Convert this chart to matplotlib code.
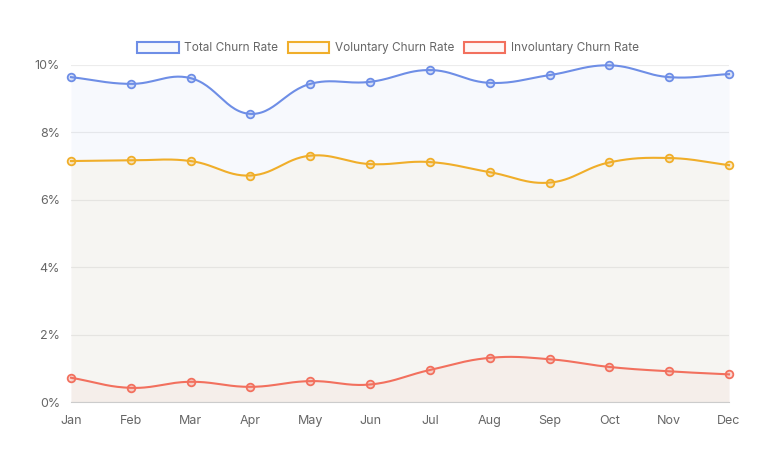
import numpy as np
import matplotlib
matplotlib.use("Agg")
import matplotlib.pyplot as plt
from matplotlib.patches import Patch
from matplotlib.ticker import FuncFormatter

plt.rcParams['font.family'] = ['Inter', 'DejaVu Sans']

months = ['Jan', 'Feb', 'Mar', 'Apr', 'May', 'Jun', 'Jul', 'Aug', 'Sep', 'Oct', 'Nov', 'Dec']
total_churn = [9.64, 9.44, 9.61, 8.55, 9.44, 9.50, 9.85, 9.47, 9.70, 9.99, 9.64, 9.73]
voluntary_churn = [7.15, 7.17, 7.15, 6.72, 7.31, 7.06, 7.12, 6.82, 6.51, 7.11, 7.24, 7.03]
involuntary_churn = [0.72, 0.42, 0.60, 0.45, 0.62, 0.52, 0.95, 1.31, 1.27, 1.04, 0.91, 0.82]

series_names = ['Total Churn Rate', 'Voluntary Churn Rate', 'Involuntary Churn Rate']
series_colors = ['#6e8ee6', '#f0ae2a', '#f2705e']


def spline(px, py, tension=0.4, steps=30):
    # chart.js style bezier through points (pixel coords)
    n = len(px)
    cps = []
    for i in range(n):
        p = (px[max(i - 1, 0)], py[max(i - 1, 0)])
        c = (px[i], py[i])
        nx = (px[min(i + 1, n - 1)], py[min(i + 1, n - 1)])
        d01 = np.hypot(c[0] - p[0], c[1] - p[1])
        d12 = np.hypot(nx[0] - c[0], nx[1] - c[1])
        s01 = d01 / (d01 + d12) if d01 + d12 else 0
        s12 = d12 / (d01 + d12) if d01 + d12 else 0
        fa, fb = tension * s01, tension * s12
        prev_cp = (c[0] - fa * (nx[0] - p[0]), c[1] - fa * (nx[1] - p[1]))
        next_cp = (c[0] + fb * (nx[0] - p[0]), c[1] + fb * (nx[1] - p[1]))
        cps.append((prev_cp, next_cp))
    xs, ys = [], []
    t = np.linspace(0, 1, steps)
    for i in range(n - 1):
        p0 = np.array([px[i], py[i]])
        p1 = np.array(cps[i][1])
        p2 = np.array(cps[i + 1][0])
        p3 = np.array([px[i + 1], py[i + 1]])
        pts = ((1 - t) ** 3)[:, None] * p0 + (3 * (1 - t) ** 2 * t)[:, None] * p1 \
            + (3 * (1 - t) * t ** 2)[:, None] * p2 + (t ** 3)[:, None] * p3
        xs.extend(pts[:, 0])
        ys.extend(pts[:, 1])
    return np.array(xs), np.array(ys)


fig = plt.figure(figsize=(7.76, 4.65), dpi=100)
ax = fig.add_axes([71 / 776, 1 - 402 / 465, 658 / 776, 337 / 465])
x = np.arange(len(months))
ax.set_xlim(0, len(months) - 1)
ax.set_ylim(0, 10)

for vals, color, name in zip([total_churn, voluntary_churn, involuntary_churn], series_colors, series_names):
    disp = ax.transData.transform(np.column_stack([x, vals]))
    sx, sy = spline(disp[:, 0], disp[:, 1])
    sy = np.minimum(sy, ax.transData.transform((0, 10))[1])
    data = ax.transData.inverted().transform(np.column_stack([sx, sy]))
    ax.fill_between(data[:, 0], 0, data[:, 1], color=color, alpha=0.05, lw=0, zorder=1)
    ax.plot(data[:, 0], data[:, 1], color=color, lw=1.5, zorder=3, clip_on=False)
    ax.plot(x, vals, 'o', ms=5.5, mec=color, mew=1.3, zorder=4, clip_on=False,
            mfc=matplotlib.colors.to_rgba(color, 0.25))

ax.set_yticks(np.arange(0, 11, 2))
ax.yaxis.set_major_formatter(FuncFormatter(lambda v, _: f'{v:.0f}%'))
ax.set_xticks(x)
ax.set_xticklabels(months)
ax.grid(axis='y', color='#ececec', lw=0.8)
ax.set_axisbelow(True)
for s in ['top', 'right', 'left']:
    ax.spines[s].set_visible(False)
ax.spines['bottom'].set_color('#cccccc')
ax.tick_params(axis='both', length=0, labelsize=9, colors='#666666')
ax.tick_params(axis='y', pad=8)
ax.tick_params(axis='x', pad=9)

handles = [Patch(facecolor=matplotlib.colors.to_rgba(c, 0.05), edgecolor=c, lw=1.5) for c in series_colors]
fig.legend(handles, series_names, loc='center', bbox_to_anchor=(0.5, 1 - 48 / 465), ncol=3,
           frameon=False, fontsize=8.5, labelcolor='#666666', handlelength=3.5, handleheight=1.1,
           handletextpad=0.45, columnspacing=0.85)

fig.savefig('out.png', dpi=100)
